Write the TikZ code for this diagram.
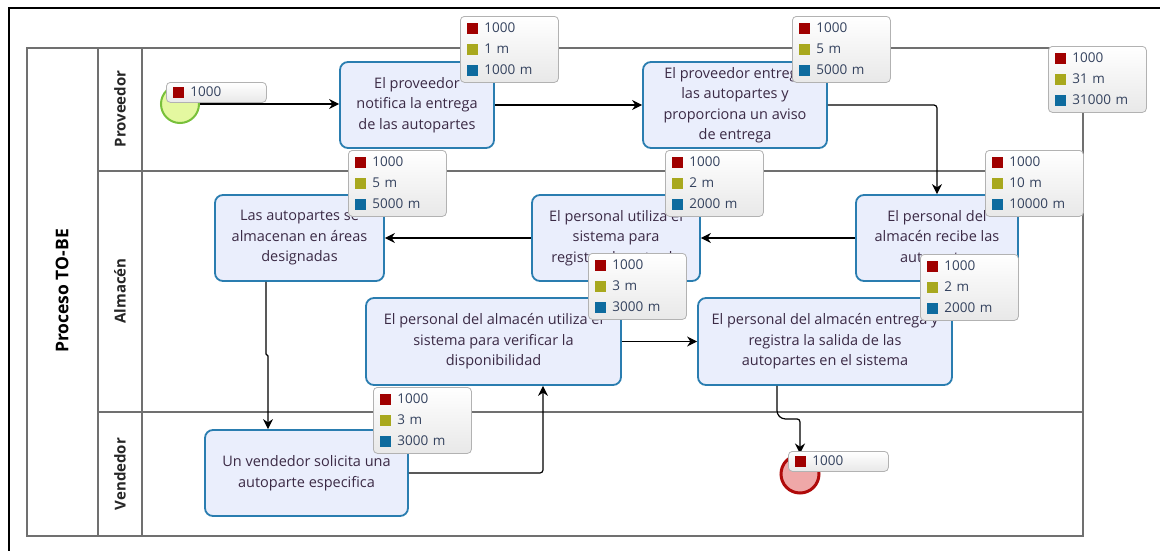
\documentclass[tikz,border=0pt]{standalone}
\usepackage{fontspec}
\setmainfont{Open Sans}
\usetikzlibrary{arrows.meta,shapes.geometric}
\definecolor{taskblue}{HTML}{2A7DB0}
\definecolor{taskfill}{HTML}{EAEEFC}
\definecolor{tasktext}{HTML}{3B2A45}
\definecolor{statred}{HTML}{A00000}
\definecolor{statolive}{HTML}{A8A81E}
\definecolor{statblue}{HTML}{0E6B9E}
\definecolor{stattext}{HTML}{34425E}
\definecolor{poolgray}{HTML}{707070}
\definecolor{startfill}{HTML}{E4F8A0}
\definecolor{startdraw}{HTML}{78C03A}
\definecolor{endfill}{HTML}{EFA8A8}
\definecolor{enddraw}{HTML}{B00A0A}
\newcommand{\sqm}[1]{\textcolor{#1}{\rule[-1pt]{11pt}{11pt}}\hspace{6pt}}
\newcommand{\statrows}[3]{\sqm{statred}#1\\\sqm{statolive}#2\\\sqm{statblue}#3}
\begin{document}
\begin{tikzpicture}[x=1pt,y=-1pt,
  task/.style={draw=taskblue, line width=1.8pt, rounded corners=8pt, fill=taskfill,
    text=tasktext, align=center, font=\fontsize{14.5}{20.5}\selectfont, inner sep=2pt},
  stat/.style={draw=black!30, line width=0.8pt, rounded corners=4pt, top color=white,
    bottom color=black!9, text=stattext, align=left, font=\fontsize{13.5}{21}\selectfont,
    anchor=north west, text width=84pt, inner xsep=7pt, inner ysep=0pt, minimum height=66pt},
  statone/.style={stat, minimum height=20pt, text width=86pt},
  flow/.style={draw=black, line width=1.2pt, -{Stealth[length=10pt,width=10pt]}, rounded corners=3pt},
  lane/.style={draw=poolgray, line width=1.2pt},
  lanelabel/.style={rotate=90, font=\bfseries\fontsize{15}{15}\selectfont, text=black!85}]
\useasboundingbox (0,0) rectangle (1160,550);
\clip (0,0) rectangle (1160,550);
\fill[white] (0,0) rectangle (1160,550);
% frame
\draw[line width=2pt] (9,570) -- (9,8) -- (1180,8);
% pool and lanes
\draw[lane] (27,48) rectangle (1083,536);
\draw[lane] (98,48) -- (98,536);
\draw[lane] (142,48) -- (142,536);
\draw[lane] (98,171) -- (1083,171);
\draw[lane] (98,412) -- (1083,412);
\node[rotate=90, font=\bfseries\fontsize{17.5}{17.5}\selectfont] (pool) at (62,291) {Proceso TO-BE};
\node[lanelabel] (lprov) at (120,109) {Proveedor};
\node[lanelabel] (lalm) at (120,291) {Almacén};
\node[lanelabel] (lven) at (120,474) {Vendedor};
% events
\node[circle, draw=startdraw, fill=startfill, line width=2pt, minimum size=38pt, inner sep=0pt] (start) at (180,104) {};
\node[circle, draw=enddraw, fill=endfill, line width=3pt, minimum size=38pt, inner sep=0pt] (end) at (800,474) {};
% tasks
\node[task, minimum width=154pt, minimum height=86pt] (t1) at (417,105) {El proveedor\\notifica la entrega\\de las autopartes};
\node[task, minimum width=184pt, minimum height=86pt] (t2) at (735,105) {El proveedor entrega\\las autopartes y\\proporciona un aviso\\de entrega};
\node[task, minimum width=162pt, minimum height=86pt] (t3) at (937,238) {El personal del\\almacén recibe las\\autopartes};
\node[task, minimum width=168pt, minimum height=86pt] (t4) at (616,238) {El personal utiliza el\\sistema para\\registrar la entrada};
\node[task, minimum width=169pt, minimum height=86pt] (t5) at (299.5,238) {Las autopartes se\\almacenan en áreas\\designadas};
\node[task, minimum width=255pt, minimum height=87pt] (t6) at (493.5,341.5) {El personal del almacén utiliza el\\sistema para verificar la\\disponibilidad};
\node[task, minimum width=254pt, minimum height=87pt] (t8) at (825,341.5) {El personal del almacén entrega y\\registra la salida de las\\autopartes en el sistema};
\node[task, minimum width=203pt, minimum height=86pt] (t7) at (306.5,473) {Un vendedor solicita una\\autoparte especifica};
% flows
\draw[flow] (start) -- (start -| t1.west);
\draw[flow] (t1) -- (t2);
\draw[flow] (t2.east) -| (t3.north);
\draw[flow] (t3) -- (t4);
\draw[flow] (t4) -- (t5);
\draw[flow, rounded corners=0pt] ([xshift=-33.5pt]t5.south) -- ++(0,72) -- ++(2,2) -- ([xshift=-38.5pt]t7.north);
\draw[flow] (t7.east) -| ([xshift=49.5pt]t6.south);
\draw[flow] (t6) -- (t8);
\draw[flow] ([xshift=-48pt]t8.south) -- ++(0,28) -- ++(5,5) -- ++(18,0) -- (end.north);
% statistics boxes
\node[statone] (sstart) at (166,82) {\sqm{statred}1000};
\node[statone] (send) at (788,451) {\sqm{statred}1000};
\node[stat] (s1) at (460,16) {\statrows{1000}{1 m}{1000 m}};
\node[stat] (s2) at (792,16) {\statrows{1000}{5 m}{5000 m}};
\node[stat] (sg) at (1048,46) {\statrows{1000}{31 m}{31000 m}};
\node[stat] (s5) at (348,150) {\statrows{1000}{5 m}{5000 m}};
\node[stat] (s4) at (665,150) {\statrows{1000}{2 m}{2000 m}};
\node[stat] (s3) at (985,150) {\statrows{1000}{10 m}{10000 m}};
\node[stat] (s6) at (588,253) {\statrows{1000}{3 m}{3000 m}};
\node[stat] (s8) at (920,254) {\statrows{1000}{2 m}{2000 m}};
\node[stat] (s7) at (373,387) {\statrows{1000}{3 m}{3000 m}};
\end{tikzpicture}
\end{document}
